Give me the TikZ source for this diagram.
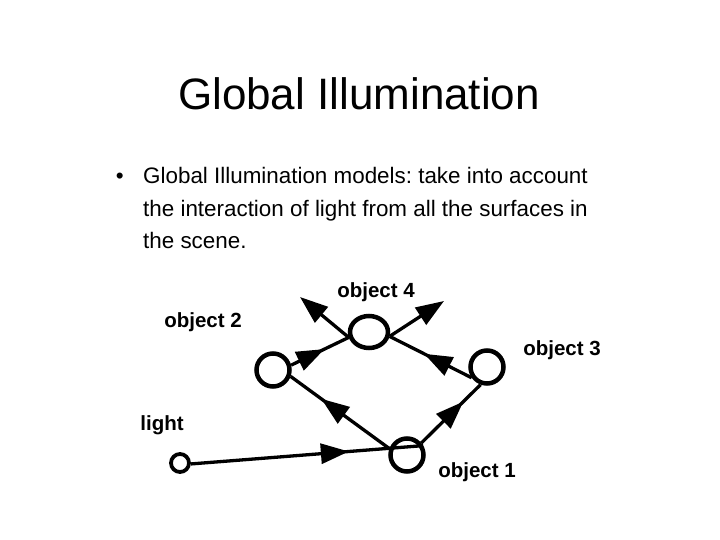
\documentclass[tikz,border=0pt]{standalone}
\usepackage{fontspec}
\setmainfont{Liberation Sans}
\usetikzlibrary{arrows.meta,decorations.markings,shapes.geometric}
\frenchspacing
\begin{document}
\begin{tikzpicture}[x=1pt,y=-1pt,
  obj/.style={circle,draw,line width=4.5pt,inner sep=0pt,minimum size=33pt},
  ray/.style={line width=3.3pt},
  midarrow/.style={postaction={decorate},decoration={markings,mark=at position #1 with {\arrow{Triangle[length=28pt,width=20pt]}}}},
  endarrow/.style={-{Triangle[length=28pt,width=20pt]}},
  lbl/.style={font=\fontsize{20.5}{24}\selectfont\bfseries,anchor=base,inner sep=0pt},
  body/.style={font=\fontsize{22.4}{32}\selectfont,anchor=base west,inner sep=0pt}]
\useasboundingbox (0,0) rectangle (720,540);
% title and text
\node[font=\fontsize{44}{50}\selectfont,anchor=base,inner sep=0pt] (title) at (359,110) {Global Illumination};
\node[body,anchor=base east] (bul) at (124,184) {\textbullet};
\node[body] (l1) at (143,184) {Global Illumination models: take into account};
\node[body] (l2) at (143,216) {the interaction of light from all the surfaces in};
\node[body] (l3) at (143,248) {the scene.};
% objects
\node[obj] (o1) at (407,455) {};
\node[obj] (o2) at (273,370) {};
\node[obj] (o3) at (487,367) {};
\node[ellipse,draw,line width=4.5pt,inner sep=0pt,minimum width=38pt,minimum height=32pt] (o4) at (369,332) {};
\node[circle,draw,line width=3.8pt,inner sep=0pt,minimum size=18pt] (light) at (180,463) {};
\coordinate (ul) at (300,297);
\coordinate (ur) at (444,301);
% labels
\node[lbl] (t4) at (376,297) {object 4};
\node[lbl] (t2) at (203,327) {object 2};
\node[lbl] (t3) at (562,355) {object 3};
\node[lbl] (t1) at (477,477) {object 1};
\node[lbl] (tl) at (162,430) {light};
% rays
\draw[ray,midarrow=0.68] (light.-5) -- (o1.30);
\draw[ray,midarrow=0.69] (o1.160) -- (o2.-20);
\draw[ray,midarrow=0.71] (o1.40) -- (o3.-110);
\draw[ray,midarrow=0.58] (o3.215) -- (o4.-12);
\draw[ray,midarrow=0.58] (o2.15) -- (o4.195);
\draw[ray,endarrow] (o4.195) -- (ul);
\draw[ray,endarrow] (o4.-12) -- (ur);
\end{tikzpicture}
\end{document}
